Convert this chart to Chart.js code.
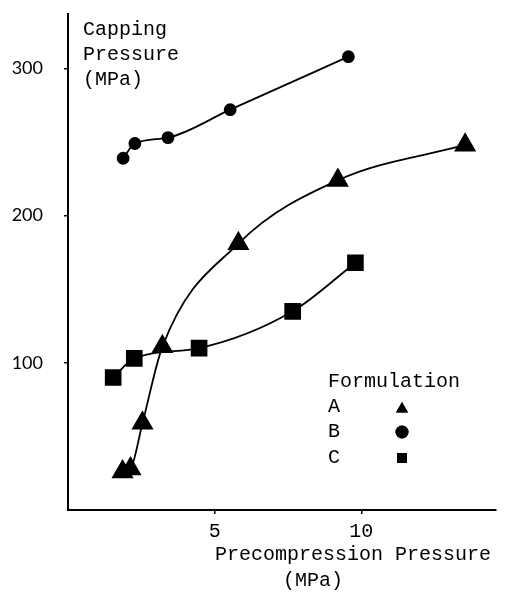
<!DOCTYPE html>
<html>
<head>
<meta charset="utf-8">
<script src="https://cdn.jsdelivr.net/npm/chart.js@4.4.0/dist/chart.umd.min.js"></script>
<style>
  html, body { margin: 0; padding: 0; background: #fff; }
  #wrap { width: 509px; height: 594px; }
</style>
</head>
<body>
<div id="wrap"><canvas id="capping"></canvas></div>
<script>
// datos (MPa)
const formulaAX = [1.86, 2.13, 2.54, 3.22, 5.81, 9.2, 13.54];
const formulaAY = [26, 28, 59, 111, 181, 224, 248];

const formulaBX = [1.88, 2.28, 3.41, 5.53, 9.56];
const formulaBY = [239, 249, 253, 272, 308];

const formulaCX = [1.54, 2.26, 4.47, 7.66, 9.8];
const formulaCY = [90, 103, 110, 135, 168];

const xTicks = [5, 10];
const yTicks = [100, 200, 300];

const mono = '"Liberation Mono", "Courier New", monospace';

function pares(xs, ys) {
    return xs.map((x, i) => ({ x: x, y: ys[i] }));
}

// textos de ejes y leyenda
const textos = {
    id: 'textos',
    afterDraw(chart) {
        const c = chart.ctx;
        c.save();
        c.fillStyle = '#000';
        c.font = '20px ' + mono;
        c.textBaseline = 'middle';
        c.textAlign = 'left';
        c.fillText('Capping', 83, 30);
        c.fillText('Pressure', 83, 55);
        c.fillText('(MPa)', 83, 80);
        c.fillText('Precompression Pressure', 215, 555);
        c.fillText('(MPa)', 283, 581);

        // leyenda
        c.fillText('Formulation', 328, 382);
        c.fillText('A', 328, 407);
        c.fillText('B', 328, 432);
        c.fillText('C', 328, 458);
        Chart.helpers.drawPoint(c, { pointStyle: 'triangle', radius: 7, rotation: 0, borderWidth: 0 }, 402, 409);
        c.fill();
        Chart.helpers.drawPoint(c, { pointStyle: 'circle', radius: 6.5, rotation: 0, borderWidth: 0 }, 402, 432);
        c.fill();
        Chart.helpers.drawPoint(c, { pointStyle: 'rect', radius: 7, rotation: 0, borderWidth: 0 }, 402, 458);
        c.fill();
        c.restore();
    }
};

const capping = new Chart(
    document.getElementById('capping'), {
    type: 'line',
    data: {
        datasets: [
            {
                label: 'A',
                data: pares(formulaAX, formulaAY),
                borderColor: '#000',
                backgroundColor: '#000',
                borderWidth: 1.8,
                pointStyle: 'triangle',
                pointRadius: 11,
                cubicInterpolationMode: 'monotone',
                fill: false
            },
            {
                label: 'B',
                data: pares(formulaBX, formulaBY),
                borderColor: '#000',
                backgroundColor: '#000',
                borderWidth: 1.8,
                pointStyle: 'circle',
                pointRadius: 5.5,
                cubicInterpolationMode: 'monotone',
                fill: false
            },
            {
                label: 'C',
                data: pares(formulaCX, formulaCY),
                borderColor: '#000',
                backgroundColor: '#000',
                borderWidth: 1.8,
                pointStyle: 'rect',
                pointRadius: 10.5,
                cubicInterpolationMode: 'monotone',
                fill: false
            }
        ]
    },
    options: {
        responsive: true,
        maintainAspectRatio: false,
        animation: false,
        layout: { padding: { left: 0, top: 14, right: 12, bottom: 0 } },
        plugins: {
            legend: { display: false },
            tooltip: { enabled: false }
        },
        scales: {
            x: {
                type: 'linear',
                min: 0,
                max: 14.6,
                afterBuildTicks: (axis) => { axis.ticks = xTicks.map(v => ({ value: v })); },
                afterFit: (scale) => {
                    scale.height = 84;
                    scale.paddingLeft = 0;
                    scale.paddingRight = 0;
                },
                ticks: {
                    color: '#000',
                    padding: 6,
                    maxRotation: 0,
                    font: { family: mono, size: 20 }
                },
                grid: { drawOnChartArea: false, drawTicks: true, tickLength: 4, color: '#000', lineWidth: 1.5 },
                border: { display: true, color: '#000', width: 2 }
            },
            y: {
                min: 0,
                max: 337,
                afterBuildTicks: (axis) => { axis.ticks = yTicks.map(v => ({ value: v })); },
                afterFit: (scale) => {
                    scale.width = 68;
                    scale.paddingTop = 0;
                    scale.paddingBottom = 0;
                },
                ticks: {
                    color: '#000',
                    padding: 21,
                    font: { family: 'Lato, "Noto Sans", sans-serif', size: 18 }
                },
                grid: { drawOnChartArea: false, drawTicks: true, tickLength: 4, color: '#000', lineWidth: 1.5 },
                border: { display: true, color: '#000', width: 2 }
            }
        }
    },
    plugins: [textos]
});
</script>
</body>
</html>
